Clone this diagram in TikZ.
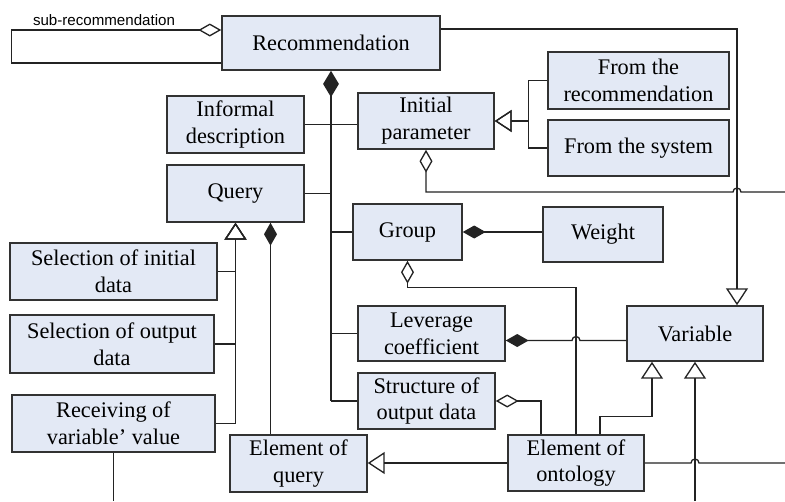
\documentclass[tikz,border=0pt]{standalone}
\usepackage{fontspec}
\setmainfont{Liberation Serif}
\newfontfamily\labelsans{Liberation Sans}
\usetikzlibrary{arrows.meta,calc}
\definecolor{boxfill}{RGB}{227,233,245}
\definecolor{boxline}{RGB}{50,50,50}
\definecolor{wirecol}{RGB}{35,35,35}
\tikzset{
	cls/.style={draw=boxline, fill=boxfill, line width=0.9pt, align=center, inner sep=0pt, font=\fontsize{12.7}{15.3}\selectfont},
	wire/.style={draw=wirecol, line width=0.75pt},
	gen/.style={wire, -{Triangle[open, length=9.6pt, width=12.5pt]}},
	agg/.style={wire, -{Diamond[open, length=13pt, width=7.4pt]}},
	comp/.style={wire, -{Diamond[length=13pt, width=7.4pt]}},
}
\begin{document}
\begin{tikzpicture}[x=0.02cm, y=-0.02cm]
	\useasboundingbox (0,0) rectangle (785,501);
	\node[cls, minimum width=4.36cm, minimum height=1.08cm] (rec) at (331,43) {Recommendation};
	\node[cls, minimum width=2.74cm, minimum height=1.14cm] (inf) at (235.5,124.5) {Informal\\description};
	\node[cls, minimum width=2.74cm, minimum height=1.14cm] (qry) at (235.5,193.5) {Query};
	\node[cls, minimum width=2.72cm, minimum height=1.12cm] (ini) at (426,121) {Initial\\parameter};
	\node[cls, minimum width=3.62cm, minimum height=1.14cm] (frec) at (638.5,80.5) {From the\\recommendation};
	\node[cls, minimum width=3.62cm, minimum height=1.12cm] (fsys) at (638.5,148) {From the system};
	\node[cls, minimum width=2.18cm, minimum height=1.12cm] (grp) at (407.5,232) {Group};
	\node[cls, minimum width=2.40cm, minimum height=1.10cm] (wgt) at (603,234.5) {Weight};
	\node[cls, minimum width=2.94cm, minimum height=1.10cm] (lev) at (431.5,333.5) {Leverage\\coefficient};
	\node[cls, minimum width=2.74cm, minimum height=1.12cm] (str) at (426.5,401) {Structure of\\output data};
	\node[cls, minimum width=2.72cm, minimum height=1.10cm] (var) at (695,333.5) {Variable};
	\node[cls, minimum width=2.72cm, minimum height=1.12cm] (eo) at (576,463) {Element of\\ontology};
	\node[cls, minimum width=2.74cm, minimum height=1.14cm] (eq) at (298.5,463.5) {Element of\\query};
	\node[cls, minimum width=4.14cm, minimum height=1.14cm] (sela) at (113.5,271.5) {Selection of initial\\data};
	\node[cls, minimum width=4.08cm, minimum height=1.16cm] (selb) at (112,344) {Selection of output\\data};
	\node[cls, minimum width=4.06cm, minimum height=1.14cm] (rcv) at (113.5,423.5) {Receiving of\\variable' value};
	\node[font=\labelsans\fontsize{8.6}{10}\selectfont] (sublbl) at (104,20) {sub-recommendation};
	\coordinate (bot) at (0,501);
	\coordinate (rgt) at (785,0);
	\coordinate (rgta) at (785,192);
	\coordinate (vx) at ($(var.north)+(42,0)$);
	\coordinate (trunk) at (rec.south |- str.west);
	\coordinate (levy) at ($(lev.east)+(0,7)$);
	\coordinate (qc) at ($(qry.south)+(35,0)$);
	\draw[agg] ($(rec.west)+(0,20)$) -- ++(-210,0) |- ($(rec.west)+(0,-13)$);
	\draw[comp, line width=1.4pt, -{Diamond[length=15pt, width=9pt]}] (trunk) -- (rec.south);
	\draw[wire] (inf.east) -- (inf.east -| ini.west);
	\draw[wire] (qry.east) -- (qry.east -| rec.south);
	\draw[wire] (grp.west) -- (grp.west -| rec.south);
	\draw[wire] (lev.west) -- (lev.west -| rec.south);
	\draw[wire] (str.west) -- (trunk);
	\draw[gen] (frec.west) -- ++(-19,0) |- (ini.east);
	\draw[gen] (fsys.west) -- ++(-19,0) |- (ini.east);
	\draw[gen] ($(rec.east)+(0,-14)$) -| (vx);
	\draw[agg] (rgta) -- ($(vx |- rgta)+(4,0)$) arc[start angle=0, end angle=-180, radius=4] -- (ini.south |- rgta) -- (ini.south);
	\draw[comp] (wgt.west |- grp.east) -- (grp.east);
	\draw[agg] (eo.north) |- ($(grp.south)+(0,27)$) -- (grp.south);
	\draw[comp] (var.west |- levy) -- ($(eo.north |- levy)+(4,0)$) arc[start angle=0, end angle=-180, radius=4] -- (levy);
	\draw[agg] ($(eo.north)+(-35,0)$) |- (str.east);
	\draw[gen] (eo.west) -- (eo.west -| eq.east);
	\draw[gen] ($(eo.north)+(24,0)$) -- ++(0,-18) -| ($(var.south)+(-43,0)$);
	\draw[gen] (var.south |- bot) -- (var.south);
	\draw[wire] (eo.east) -- ($(var.south |- eo.east)+(-4,0)$) arc[start angle=180, end angle=360, radius=4] -- (eo.east -| rgt);
	\draw[gen] (sela.east) -| (qry.south);
	\draw[gen] (selb.east) -| (qry.south);
	\draw[gen] (rcv.east) -| (qry.south);
	\draw[comp] (qc |- eq.north) -- (qc);
	\draw[wire] (rcv.south) -- (rcv.south |- bot);
\end{tikzpicture}
\end{document}
